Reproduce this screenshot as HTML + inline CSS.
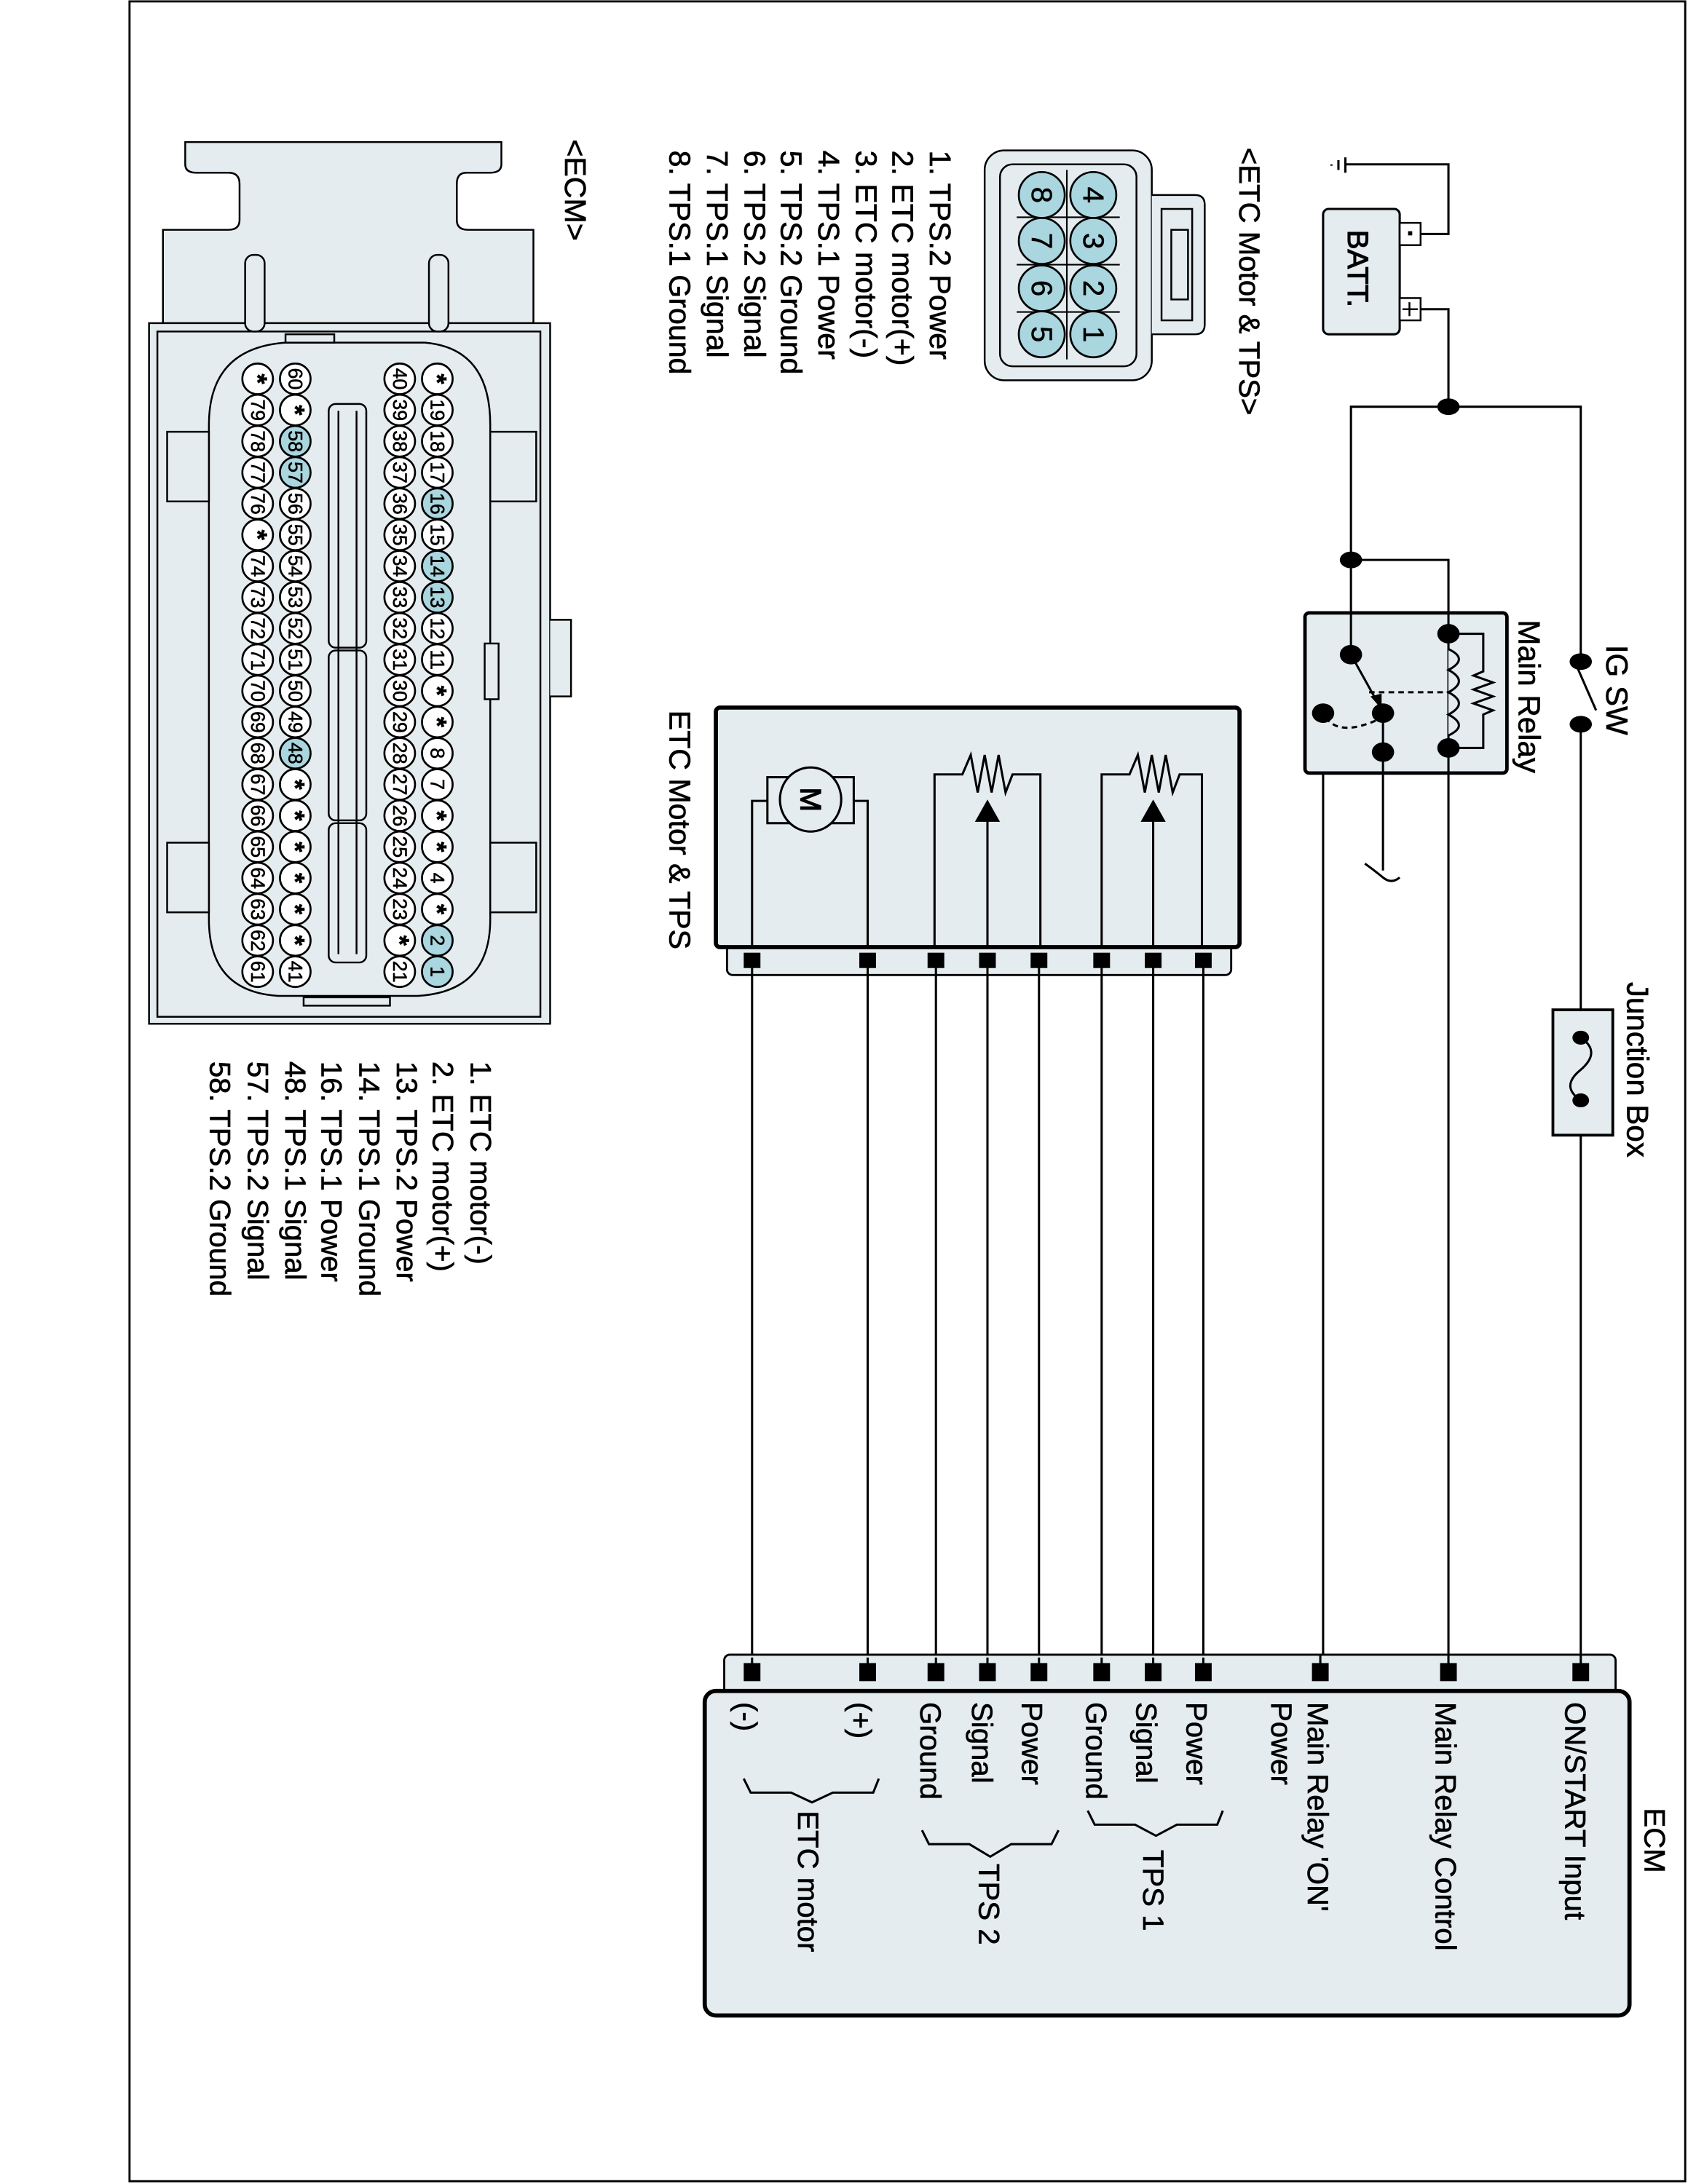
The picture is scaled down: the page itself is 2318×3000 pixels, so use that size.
<!DOCTYPE html>
<html><head><meta charset="utf-8"><style>
html,body{margin:0;padding:0;background:#fff}
svg{display:block}
text{font-family:"Liberation Sans",Arial,sans-serif;fill:#000;stroke:#000;stroke-width:0.35}
.r{dominant-baseline:central}
.pin circle{fill:#fff;stroke:#000;stroke-width:1.4}
.pin.b circle{fill:#a9d6df}
.pin text{font-size:14px;text-anchor:middle;dominant-baseline:central;stroke-width:0.3}
.pin text.s{font-size:19px;font-weight:bold}
</style></head><body>
<svg width="2318" height="3000" viewBox="0 0 1212 1568" preserveAspectRatio="none" xmlns="http://www.w3.org/2000/svg">
<rect x="93" y="1" width="1117" height="1565" fill="#fff" stroke="#000" stroke-width="1.5"/>

<g stroke="#000" stroke-width="1.3" fill="#e4ecef">
<path d="M133,102 H360 V118 Q360,124 352,124 H335 Q328,124 328,132 V158 Q328,165 336,165 H383 V232 H117 V165 H164 Q172,165 172,158 V132 Q172,124 164,124 H141 Q133,124 133,118 Z"/>
<rect x="107" y="232" width="288" height="503"/>
<rect x="113" y="238" width="275" height="492" fill="none"/>
<rect x="176" y="183" width="14" height="55" rx="6"/>
<rect x="308" y="183" width="14" height="55" rx="6"/>
<path d="M150,305 Q150,250 205,246 H305 Q352,250 352,305 V660 Q352,712 300,715 H200 Q150,712 150,660 Z"/>
<rect x="120" y="310" width="30" height="50"/><rect x="120" y="605" width="30" height="50"/>
<rect x="352" y="310" width="33" height="50"/><rect x="352" y="605" width="33" height="50"/>
<rect x="348" y="462" width="10" height="40"/>
<path d="M395,445 H410 V500 H395"/>
<rect x="205" y="240" width="35" height="6"/>
<rect x="218" y="716" width="62" height="6"/>
<rect x="236" y="290" width="27" height="175" rx="5"/>
<rect x="236" y="467" width="27" height="122" rx="5"/>
<rect x="236" y="591" width="27" height="100" rx="5"/>
<line x1="243" y1="295" x2="243" y2="685" fill="none"/><line x1="256" y1="295" x2="256" y2="685" fill="none"/>
</g>
<g>
<g class="pin" transform="translate(314,272)"><circle r="11"/><text class="s" transform="rotate(90)">*</text></g>
<g class="pin" transform="translate(314,294.4)"><circle r="11"/><text transform="rotate(90)">19</text></g>
<g class="pin" transform="translate(314,316.8)"><circle r="11"/><text transform="rotate(90)">18</text></g>
<g class="pin" transform="translate(314,339.2)"><circle r="11"/><text transform="rotate(90)">17</text></g>
<g class="pin b" transform="translate(314,361.6)"><circle r="11"/><text transform="rotate(90)">16</text></g>
<g class="pin" transform="translate(314,384)"><circle r="11"/><text transform="rotate(90)">15</text></g>
<g class="pin b" transform="translate(314,406.4)"><circle r="11"/><text transform="rotate(90)">14</text></g>
<g class="pin b" transform="translate(314,428.8)"><circle r="11"/><text transform="rotate(90)">13</text></g>
<g class="pin" transform="translate(314,451.2)"><circle r="11"/><text transform="rotate(90)">12</text></g>
<g class="pin" transform="translate(314,473.6)"><circle r="11"/><text transform="rotate(90)">11</text></g>
<g class="pin" transform="translate(314,496)"><circle r="11"/><text class="s" transform="rotate(90)">*</text></g>
<g class="pin" transform="translate(314,518.4)"><circle r="11"/><text class="s" transform="rotate(90)">*</text></g>
<g class="pin" transform="translate(314,540.8)"><circle r="11"/><text transform="rotate(90)">8</text></g>
<g class="pin" transform="translate(314,563.2)"><circle r="11"/><text transform="rotate(90)">7</text></g>
<g class="pin" transform="translate(314,585.6)"><circle r="11"/><text class="s" transform="rotate(90)">*</text></g>
<g class="pin" transform="translate(314,608)"><circle r="11"/><text class="s" transform="rotate(90)">*</text></g>
<g class="pin" transform="translate(314,630.4)"><circle r="11"/><text transform="rotate(90)">4</text></g>
<g class="pin" transform="translate(314,652.8)"><circle r="11"/><text class="s" transform="rotate(90)">*</text></g>
<g class="pin b" transform="translate(314,675.2)"><circle r="11"/><text transform="rotate(90)">2</text></g>
<g class="pin b" transform="translate(314,697.6)"><circle r="11"/><text transform="rotate(90)">1</text></g>
</g>
<g>
<g class="pin" transform="translate(287,272)"><circle r="11"/><text transform="rotate(90)">40</text></g>
<g class="pin" transform="translate(287,294.4)"><circle r="11"/><text transform="rotate(90)">39</text></g>
<g class="pin" transform="translate(287,316.8)"><circle r="11"/><text transform="rotate(90)">38</text></g>
<g class="pin" transform="translate(287,339.2)"><circle r="11"/><text transform="rotate(90)">37</text></g>
<g class="pin" transform="translate(287,361.6)"><circle r="11"/><text transform="rotate(90)">36</text></g>
<g class="pin" transform="translate(287,384)"><circle r="11"/><text transform="rotate(90)">35</text></g>
<g class="pin" transform="translate(287,406.4)"><circle r="11"/><text transform="rotate(90)">34</text></g>
<g class="pin" transform="translate(287,428.8)"><circle r="11"/><text transform="rotate(90)">33</text></g>
<g class="pin" transform="translate(287,451.2)"><circle r="11"/><text transform="rotate(90)">32</text></g>
<g class="pin" transform="translate(287,473.6)"><circle r="11"/><text transform="rotate(90)">31</text></g>
<g class="pin" transform="translate(287,496)"><circle r="11"/><text transform="rotate(90)">30</text></g>
<g class="pin" transform="translate(287,518.4)"><circle r="11"/><text transform="rotate(90)">29</text></g>
<g class="pin" transform="translate(287,540.8)"><circle r="11"/><text transform="rotate(90)">28</text></g>
<g class="pin" transform="translate(287,563.2)"><circle r="11"/><text transform="rotate(90)">27</text></g>
<g class="pin" transform="translate(287,585.6)"><circle r="11"/><text transform="rotate(90)">26</text></g>
<g class="pin" transform="translate(287,608)"><circle r="11"/><text transform="rotate(90)">25</text></g>
<g class="pin" transform="translate(287,630.4)"><circle r="11"/><text transform="rotate(90)">24</text></g>
<g class="pin" transform="translate(287,652.8)"><circle r="11"/><text transform="rotate(90)">23</text></g>
<g class="pin" transform="translate(287,675.2)"><circle r="11"/><text class="s" transform="rotate(90)">*</text></g>
<g class="pin" transform="translate(287,697.6)"><circle r="11"/><text transform="rotate(90)">21</text></g>
</g>
<g>
<g class="pin" transform="translate(212,272)"><circle r="11"/><text transform="rotate(90)">60</text></g>
<g class="pin" transform="translate(212,294.4)"><circle r="11"/><text class="s" transform="rotate(90)">*</text></g>
<g class="pin b" transform="translate(212,316.8)"><circle r="11"/><text transform="rotate(90)">58</text></g>
<g class="pin b" transform="translate(212,339.2)"><circle r="11"/><text transform="rotate(90)">57</text></g>
<g class="pin" transform="translate(212,361.6)"><circle r="11"/><text transform="rotate(90)">56</text></g>
<g class="pin" transform="translate(212,384)"><circle r="11"/><text transform="rotate(90)">55</text></g>
<g class="pin" transform="translate(212,406.4)"><circle r="11"/><text transform="rotate(90)">54</text></g>
<g class="pin" transform="translate(212,428.8)"><circle r="11"/><text transform="rotate(90)">53</text></g>
<g class="pin" transform="translate(212,451.2)"><circle r="11"/><text transform="rotate(90)">52</text></g>
<g class="pin" transform="translate(212,473.6)"><circle r="11"/><text transform="rotate(90)">51</text></g>
<g class="pin" transform="translate(212,496)"><circle r="11"/><text transform="rotate(90)">50</text></g>
<g class="pin" transform="translate(212,518.4)"><circle r="11"/><text transform="rotate(90)">49</text></g>
<g class="pin b" transform="translate(212,540.8)"><circle r="11"/><text transform="rotate(90)">48</text></g>
<g class="pin" transform="translate(212,563.2)"><circle r="11"/><text class="s" transform="rotate(90)">*</text></g>
<g class="pin" transform="translate(212,585.6)"><circle r="11"/><text class="s" transform="rotate(90)">*</text></g>
<g class="pin" transform="translate(212,608)"><circle r="11"/><text class="s" transform="rotate(90)">*</text></g>
<g class="pin" transform="translate(212,630.4)"><circle r="11"/><text class="s" transform="rotate(90)">*</text></g>
<g class="pin" transform="translate(212,652.8)"><circle r="11"/><text class="s" transform="rotate(90)">*</text></g>
<g class="pin" transform="translate(212,675.2)"><circle r="11"/><text class="s" transform="rotate(90)">*</text></g>
<g class="pin" transform="translate(212,697.6)"><circle r="11"/><text transform="rotate(90)">41</text></g>
</g>
<g>
<g class="pin" transform="translate(185,272)"><circle r="11"/><text class="s" transform="rotate(90)">*</text></g>
<g class="pin" transform="translate(185,294.4)"><circle r="11"/><text transform="rotate(90)">79</text></g>
<g class="pin" transform="translate(185,316.8)"><circle r="11"/><text transform="rotate(90)">78</text></g>
<g class="pin" transform="translate(185,339.2)"><circle r="11"/><text transform="rotate(90)">77</text></g>
<g class="pin" transform="translate(185,361.6)"><circle r="11"/><text transform="rotate(90)">76</text></g>
<g class="pin" transform="translate(185,384)"><circle r="11"/><text class="s" transform="rotate(90)">*</text></g>
<g class="pin" transform="translate(185,406.4)"><circle r="11"/><text transform="rotate(90)">74</text></g>
<g class="pin" transform="translate(185,428.8)"><circle r="11"/><text transform="rotate(90)">73</text></g>
<g class="pin" transform="translate(185,451.2)"><circle r="11"/><text transform="rotate(90)">72</text></g>
<g class="pin" transform="translate(185,473.6)"><circle r="11"/><text transform="rotate(90)">71</text></g>
<g class="pin" transform="translate(185,496)"><circle r="11"/><text transform="rotate(90)">70</text></g>
<g class="pin" transform="translate(185,518.4)"><circle r="11"/><text transform="rotate(90)">69</text></g>
<g class="pin" transform="translate(185,540.8)"><circle r="11"/><text transform="rotate(90)">68</text></g>
<g class="pin" transform="translate(185,563.2)"><circle r="11"/><text transform="rotate(90)">67</text></g>
<g class="pin" transform="translate(185,585.6)"><circle r="11"/><text transform="rotate(90)">66</text></g>
<g class="pin" transform="translate(185,608)"><circle r="11"/><text transform="rotate(90)">65</text></g>
<g class="pin" transform="translate(185,630.4)"><circle r="11"/><text transform="rotate(90)">64</text></g>
<g class="pin" transform="translate(185,652.8)"><circle r="11"/><text transform="rotate(90)">63</text></g>
<g class="pin" transform="translate(185,675.2)"><circle r="11"/><text transform="rotate(90)">62</text></g>
<g class="pin" transform="translate(185,697.6)"><circle r="11"/><text transform="rotate(90)">61</text></g>
</g>

<g font-size="21">
<text class="r" transform="translate(413,100) rotate(90)" font-size="21.5">&lt;ECM&gt;</text>
<text class="r" transform="translate(345,762) rotate(90)">1. ETC motor(-)</text>
<text class="r" transform="translate(318,762) rotate(90)">2. ETC motor(+)</text>
<text class="r" transform="translate(292,762) rotate(90)">13. TPS.2 Power</text>
<text class="r" transform="translate(265,762) rotate(90)">14. TPS.1 Ground</text>
<text class="r" transform="translate(238,762) rotate(90)">16. TPS.1 Power</text>
<text class="r" transform="translate(212,762) rotate(90)">48. TPS.1 Signal</text>
<text class="r" transform="translate(185,762) rotate(90)">57. TPS.2 Signal</text>
<text class="r" transform="translate(158,762) rotate(90)">58. TPS.2 Ground</text>
</g>

<g stroke="#000" stroke-width="1.3" fill="#e4ecef">
<rect x="707" y="108" width="120" height="165" rx="14"/>
<rect x="718" y="118" width="98" height="145" rx="9" fill="none"/>
<path d="M827,140 H858 Q865,140 865,147 V233 Q865,240 858,240 H827"/>
<rect x="834" y="150" width="22" height="80" fill="none"/>
<rect x="841" y="165" width="12" height="50" fill="none"/>
</g>
<g stroke="#000" stroke-width="1.1"><line x1="766" y1="122" x2="766" y2="258"/>
<line x1="730" y1="156" x2="804" y2="156"/><line x1="730" y1="190" x2="804" y2="190"/><line x1="730" y1="224" x2="804" y2="224"/></g>
<g>
<g class="pin b" transform="translate(785,140)"><circle r="16.5"/><text transform="rotate(90)" style="font-size:21px">4</text></g>
<g class="pin b" transform="translate(785,173)"><circle r="16.5"/><text transform="rotate(90)" style="font-size:21px">3</text></g>
<g class="pin b" transform="translate(785,207)"><circle r="16.5"/><text transform="rotate(90)" style="font-size:21px">2</text></g>
<g class="pin b" transform="translate(785,240)"><circle r="16.5"/><text transform="rotate(90)" style="font-size:21px">1</text></g>
<g class="pin b" transform="translate(748,140)"><circle r="16.5"/><text transform="rotate(90)" style="font-size:21px">8</text></g>
<g class="pin b" transform="translate(748,173)"><circle r="16.5"/><text transform="rotate(90)" style="font-size:21px">7</text></g>
<g class="pin b" transform="translate(748,207)"><circle r="16.5"/><text transform="rotate(90)" style="font-size:21px">6</text></g>
<g class="pin b" transform="translate(748,240)"><circle r="16.5"/><text transform="rotate(90)" style="font-size:21px">5</text></g>
</g>
<g font-size="21.5">
<text class="r" transform="translate(897,106) rotate(90)" font-size="21">&lt;ETC Motor &amp; TPS&gt;</text>
<text class="r" transform="translate(675,108) rotate(90)">1. TPS.2 Power</text>
<text class="r" transform="translate(648,108) rotate(90)">2. ETC motor(+)</text>
<text class="r" transform="translate(622,108) rotate(90)">3. ETC motor(-)</text>
<text class="r" transform="translate(595,108) rotate(90)">4. TPS.1 Power</text>
<text class="r" transform="translate(568,108) rotate(90)">5. TPS.2 Ground</text>
<text class="r" transform="translate(542,108) rotate(90)">6. TPS.2 Signal</text>
<text class="r" transform="translate(515,108) rotate(90)">7. TPS.1 Signal</text>
<text class="r" transform="translate(488,108) rotate(90)">8. TPS.1 Ground</text>
</g>

<g stroke="#000" stroke-width="1.6" fill="none">
<line x1="966" y1="113" x2="966" y2="124"/><line x1="961" y1="115" x2="961" y2="122"/><line x1="956" y1="118" x2="956" y2="119"/>
<polyline points="966,118 1040,118 1040,168 1020,168"/>
<polyline points="1020,222 1040,222 1040,292"/>
<polyline points="970,470 970,292 1135,292 1135,475"/>
<polyline points="970,402 1040,402 1040,455"/>
<line x1="1040" y1="537" x2="1040" y2="1196"/>
<polyline points="993,540 950,540 950,1196"/>
<line x1="993" y1="512" x2="993" y2="625"/>
<path d="M980,620 Q987,625 993,630 Q999,635 1005,630" />
<polyline points="1135,520 1135,725"/>
<line x1="1135" y1="815" x2="1135" y2="1196"/>
<line x1="1132" y1="478" x2="1146" y2="510"/>
</g>
<rect x="950" y="150" width="55" height="90" rx="4" fill="#e4ecef" stroke="#000" stroke-width="1.6"/>
<text class="r" transform="translate(975,165) rotate(90)" font-size="21" style="stroke-width:0.6">BATT.</text>
<rect x="1005" y="160" width="15" height="16" fill="#fff" stroke="#000" stroke-width="1.3"/>
<rect x="1011" y="166" width="3" height="3" fill="#000"/>
<rect x="1005" y="214" width="15" height="16" fill="#fff" stroke="#000" stroke-width="1.3"/>
<path d="M1007,222 H1018 M1012,217 V227" stroke="#000" stroke-width="1.3"/>

<rect x="937" y="440" width="145" height="115" rx="3" fill="#e4ecef" stroke="#000" stroke-width="2.5"/>
<g stroke="#000" stroke-width="1.6" fill="none">
<line x1="970" y1="440" x2="970" y2="470"/>
<line x1="1040" y1="440" x2="1040" y2="555"/>
<path d="M1040,466 Q1055,473 1040,481 Q1055,489 1040,497 Q1055,505 1040,513 Q1055,521 1040,528" fill="#e4ecef"/>
<polyline points="1040,455 1065,455 1065,482 1058,485 1072,490 1058,495 1072,500 1058,505 1072,510 1065,513 1065,537 1040,537"/>
<line x1="970" y1="470" x2="990" y2="506"/>
<line x1="983" y1="497" x2="1040" y2="497" stroke-dasharray="4,3"/>
<path d="M952,515 Q962,530 993,515" stroke-dasharray="4,3"/>
<line x1="993" y1="512" x2="993" y2="555"/>
</g>
<path d="M992,509 L984,500 L992,498 Z" fill="#000"/>
<g fill="#000">
<ellipse cx="1040" cy="292" rx="8" ry="6"/>
<ellipse cx="970" cy="402" rx="8" ry="6"/>
<ellipse cx="970" cy="470" rx="8" ry="7"/>
<ellipse cx="1040" cy="455" rx="8" ry="7"/>
<ellipse cx="1040" cy="537" rx="8" ry="7"/>
<ellipse cx="993" cy="512" rx="8" ry="7"/>
<ellipse cx="993" cy="540" rx="8" ry="7"/>
<ellipse cx="950" cy="512" rx="8" ry="7"/>
<ellipse cx="1135" cy="475" rx="8" ry="6"/>
<ellipse cx="1135" cy="520" rx="8" ry="6"/>
</g>
<text class="r" transform="translate(1098,445) rotate(90)" font-size="22">Main Relay</text>
<text class="r" transform="translate(1161,463) rotate(90)" font-size="22">IG SW</text>

<rect x="1115" y="725" width="43" height="90" fill="#e4ecef" stroke="#000" stroke-width="2"/>
<path d="M1135,745 Q1150,755 1135,768 Q1120,780 1135,790" fill="none" stroke="#000" stroke-width="1.6"/>
<ellipse cx="1135" cy="745" rx="6" ry="5" fill="#000"/><ellipse cx="1135" cy="790" rx="6" ry="5" fill="#000"/>
<text class="r" transform="translate(1176,705) rotate(90)" font-size="22">Junction Box</text>

<rect x="522" y="678" width="362" height="22" rx="4" fill="#e4ecef" stroke="#000" stroke-width="1.5"/>
<rect x="514" y="508" width="376" height="172" rx="3" fill="#e4ecef" stroke="#000" stroke-width="3"/>
<text class="r" transform="translate(488,510) rotate(90)" font-size="21.5">ETC Motor &amp; TPS</text>
<g stroke="#000" stroke-width="1.6" fill="none">
<polyline points="540,680 540,575 551,575"/><polyline points="623,680 623,575 613,575"/>
<rect x="551" y="558" width="62" height="33"/>
<polyline points="671,680 671,556 691,556 697,542 702,569 707,542 712,569 717,542 722,569 727,556 747,556 747,680"/>
<polyline points="791,680 791,556 811,556 817,542 822,569 827,542 832,569 837,542 842,569 847,556 863,556 863,680"/>
<line x1="709" y1="680" x2="709" y2="585"/><line x1="828" y1="680" x2="828" y2="585"/>
</g>
<ellipse cx="582" cy="574" rx="22" ry="23" fill="#e4ecef" stroke="#000" stroke-width="1.6"/>
<text class="r" transform="translate(582,574) rotate(90)" font-size="21" text-anchor="middle" style="stroke-width:0.7">M</text>
<path d="M709,574 L700,590 L718,590 Z M828,574 L819,590 L837,590 Z" fill="#000"/>

<g stroke="#000" stroke-width="1.6">
<line x1="540" y1="690" x2="540" y2="1200"/><line x1="623" y1="690" x2="623" y2="1200"/>
<line x1="672" y1="690" x2="672" y2="1200"/><line x1="709" y1="690" x2="709" y2="1200"/>
<line x1="746" y1="690" x2="746" y2="1200"/><line x1="791" y1="690" x2="791" y2="1200"/>
<line x1="828" y1="690" x2="828" y2="1200"/><line x1="864" y1="690" x2="864" y2="1200"/>
</g>
<g fill="#000">
<rect x="534" y="684" width="12" height="11"/><rect x="617" y="684" width="12" height="11"/>
<rect x="666" y="684" width="12" height="11"/><rect x="703" y="684" width="12" height="11"/>
<rect x="740" y="684" width="12" height="11"/><rect x="785" y="684" width="12" height="11"/>
<rect x="822" y="684" width="12" height="11"/><rect x="858" y="684" width="12" height="11"/>
</g>

<rect x="520" y="1188" width="640" height="30" rx="4" fill="#e4ecef" stroke="#000" stroke-width="1.5"/>
<g stroke="#000" stroke-width="1.6">
<line x1="540" y1="1190" x2="540" y2="1200"/><line x1="623" y1="1190" x2="623" y2="1200"/>
<line x1="672" y1="1190" x2="672" y2="1200"/><line x1="709" y1="1190" x2="709" y2="1200"/>
<line x1="746" y1="1190" x2="746" y2="1200"/><line x1="791" y1="1190" x2="791" y2="1200"/>
<line x1="828" y1="1190" x2="828" y2="1200"/><line x1="864" y1="1190" x2="864" y2="1200"/>
<line x1="948" y1="1188" x2="948" y2="1200"/><line x1="1040" y1="1188" x2="1040" y2="1200"/><line x1="1135" y1="1188" x2="1135" y2="1200"/>
</g>
<g fill="#000">
<rect x="534" y="1194" width="12" height="13"/><rect x="617" y="1194" width="12" height="13"/>
<rect x="666" y="1194" width="12" height="13"/><rect x="703" y="1194" width="12" height="13"/>
<rect x="740" y="1194" width="12" height="13"/><rect x="785" y="1194" width="12" height="13"/>
<rect x="822" y="1194" width="12" height="13"/><rect x="858" y="1194" width="12" height="13"/>
<rect x="942" y="1194" width="12" height="13"/><rect x="1034" y="1194" width="12" height="13"/>
<rect x="1129" y="1194" width="12" height="13"/>
</g>
<rect x="506" y="1214" width="664" height="233" rx="8" fill="#e4ecef" stroke="#000" stroke-width="3"/>
<g font-size="21">
<text class="r" transform="translate(1188,1298) rotate(90)">ECM</text>
<text class="r" transform="translate(1131,1222) rotate(90)">ON/START Input</text>
<text class="r" transform="translate(1038,1222) rotate(90)">Main Relay Control</text>
<text class="r" transform="translate(946,1222) rotate(90)">Main Relay 'ON'</text>
<text class="r" transform="translate(920,1222) rotate(90)">Power</text>
<text class="r" transform="translate(859,1222) rotate(90)">Power</text>
<text class="r" transform="translate(823,1222) rotate(90)">Signal</text>
<text class="r" transform="translate(787,1222) rotate(90)">Ground</text>
<text class="r" transform="translate(741,1222) rotate(90)">Power</text>
<text class="r" transform="translate(705,1222) rotate(90)">Signal</text>
<text class="r" transform="translate(668,1222) rotate(90)">Ground</text>
<text class="r" transform="translate(618,1222) rotate(90)">(+)</text>
<text class="r" transform="translate(536,1222) rotate(90)">(-)</text>
<text class="r" transform="translate(828,1328) rotate(90)">TPS 1</text>
<text class="r" transform="translate(710,1338) rotate(90)">TPS 2</text>
<text class="r" transform="translate(580,1300) rotate(90)">ETC motor</text>
</g>
<g stroke="#000" stroke-width="1.6" fill="none">
<polyline points="878,1300 874,1310 845,1310 830,1318 815,1310 786,1310 781,1300"/>
<polyline points="760,1314 755,1324 726,1324 711,1333 696,1324 667,1324 662,1314"/>
<polyline points="631,1277 627,1287 598,1287 583,1294 568,1287 539,1287 534,1277"/>
</g>
</svg>
</body></html>
